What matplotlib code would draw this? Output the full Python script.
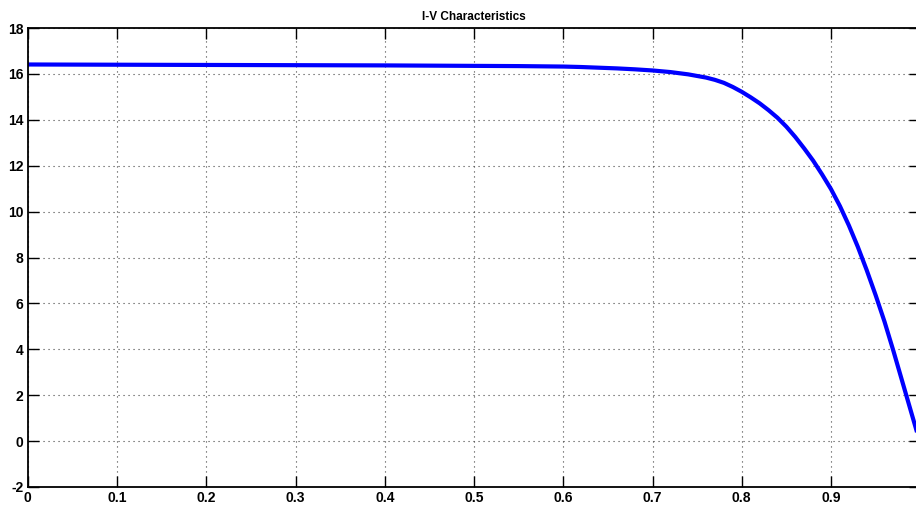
import matplotlib
matplotlib.use("Agg")
import matplotlib.pyplot as plt

title = "I-V Characteristics"
voltage = [0, 0.1, 0.2, 0.3, 0.4, 0.5, 0.55, 0.6, 0.62, 0.64, 0.66, 0.68, 0.70,
           0.72, 0.74, 0.76, 0.77, 0.78, 0.79, 0.80, 0.81, 0.82, 0.83, 0.84, 0.85,
           0.86, 0.87, 0.88, 0.89, 0.90, 0.91, 0.92, 0.93, 0.94, 0.95, 0.96,
           0.97, 0.98, 0.99, 1.00]
current = [16.41, 16.40, 16.39, 16.38, 16.37, 16.35, 16.34, 16.32, 16.30, 16.27,
           16.24, 16.20, 16.15, 16.08, 15.98, 15.84, 15.74, 15.61, 15.43, 15.22,
           14.98, 14.72, 14.42, 14.09, 13.70, 13.25, 12.75, 12.22, 11.62, 10.98,
           10.24, 9.40, 8.47, 7.45, 6.36, 5.20, 3.92, 2.58, 1.24, -0.10]
xticks = [0, 0.1, 0.2, 0.3, 0.4, 0.5, 0.6, 0.7, 0.8, 0.9]
xticklabels = ["0", "0.1", "0.2", "0.3", "0.4", "0.5", "0.6", "0.7", "0.8", "0.9"]
yticks = [-2, 0, 2, 4, 6, 8, 10, 12, 14, 16, 18]

plt.rcParams['font.family'] = ['Liberation Sans', 'DejaVu Sans']
plt.rcParams['axes.unicode_minus'] = False

fig = plt.figure(figsize=(9.16, 5.08), dpi=100)
ax = fig.add_axes([27.75 / 916, 21 / 508, 892.5 / 916, 459 / 508])
ax.plot(voltage, current, color='#0000ff', lw=3, solid_capstyle='butt',
        solid_joinstyle='round')
ax.set_xlim(0, 1.0)
ax.set_ylim(-2, 18)
ax.set_xticks(xticks)
ax.set_xticklabels(xticklabels)
ax.set_yticks(yticks)
ax.yaxis.set_tick_params(which='both', right=True)
ax.tick_params(direction='in', length=8, width=1, top=True, right=True,
               labelsize=10, pad=3)
for lab in ax.get_xticklabels() + ax.get_yticklabels():
    lab.set_fontweight('bold')
ax.grid(True, linestyle=(0, (1, 3.5)), color='#444444', linewidth=0.8)
for s in ax.spines.values():
    s.set_linewidth(1.3)
ax.set_title(title, fontsize=8.5, fontweight='bold', pad=6)
fig.savefig("out.png", dpi=100)
